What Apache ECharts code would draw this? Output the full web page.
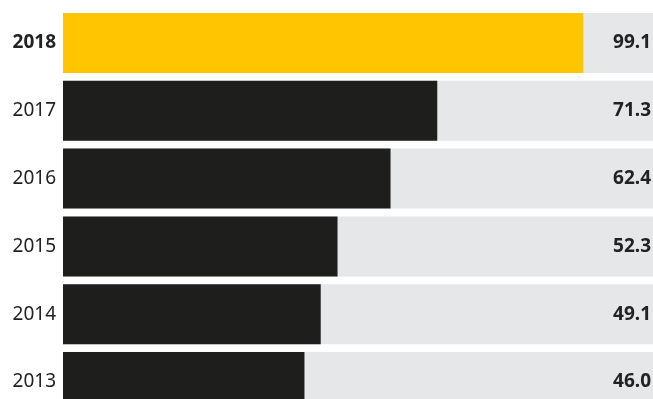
<!DOCTYPE html>
<html>
<head>
<meta charset="utf-8">
<script src="https://cdn.jsdelivr.net/npm/echarts@6/dist/echarts.min.js"></script>
<style>
  html, body { margin: 0; padding: 0; background: #ffffff; }
  #chart { width: 653px; height: 399px; }
</style>
</head>
<body>
<div id="chart"></div>
<script>
// Years from bottom to top, with their values
const years = ['2013', '2014', '2015', '2016', '2017', '2018'];
const values = [46.0, 49.1, 52.3, 62.4, 71.3, 99.1];
const highlightYear = '2018';
const axisMax = 112.4;

const chart = echarts.init(document.getElementById('chart'));

const trackData = years.map(() => axisMax);
const barData = values.map((v, i) => ({
  value: v,
  itemStyle: { color: years[i] === highlightYear ? '#ffc500' : '#1e1e1c' }
}));

chart.setOption({
  animation: false,
  // the lowest row runs past the bottom edge of the canvas
  grid: { left: 63, right: 0, top: 9, height: 407, outerBoundsMode: 'none', containLabel: false },
  xAxis: {
    type: 'value', min: 0, max: axisMax, show: false
  },
  yAxis: {
    type: 'category',
    data: years,
    axisLine: { show: false },
    axisTick: { show: false },
    axisLabel: {
      margin: 7,
      fontFamily: 'Noto Sans',
      fontSize: 19,
      color: '#222222',
      formatter: (y) => y === highlightYear ? '{b|' + y + '}' : y,
      rich: { b: { fontFamily: 'Noto Sans', fontSize: 19, fontWeight: 'bold', color: '#222222' } }
    }
  },
  series: [
    {
      // grey track behind each bar, carrying the value label at its right end
      type: 'bar',
      data: trackData,
      barWidth: 60,
      silent: true,
      itemStyle: { color: '#e6e7e9' },
      label: {
        show: true,
        position: 'insideRight',
        distance: 2,
        fontFamily: 'Noto Sans',
        fontSize: 19,
        fontWeight: 'bold',
        color: '#222222',
        formatter: (p) => values[p.dataIndex].toFixed(1)
      },
      z: 1
    },
    {
      type: 'bar',
      data: barData,
      barWidth: 60,
      barGap: '-100%',
      z: 2
    }
  ]
});
</script>
</body>
</html>
